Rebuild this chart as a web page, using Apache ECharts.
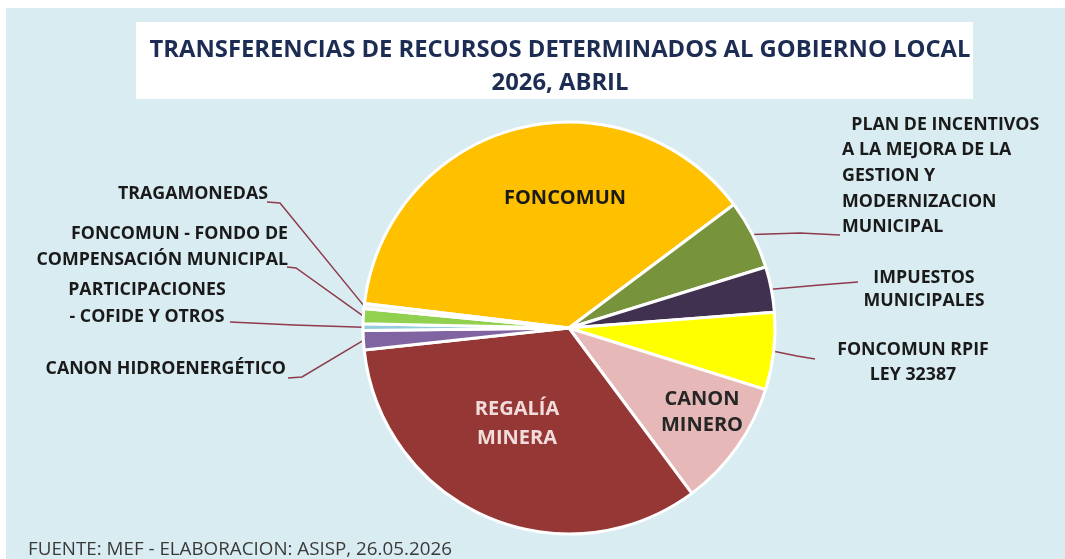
<!DOCTYPE html>
<html>
<head>
<meta charset="utf-8">
<script src="https://cdn.jsdelivr.net/npm/echarts@6/dist/echarts.min.js"></script>
<style>
html,body{margin:0;padding:0;background:#ffffff;}
#chart{width:1065px;height:559px;}
</style>
</head>
<body>
<div id="chart"></div>
<script>
// ---- data ----
const categories = [
  'FONCOMUN',
  'PLAN DE INCENTIVOS A LA MEJORA DE LA GESTION Y MODERNIZACION MUNICIPAL',
  'IMPUESTOS MUNICIPALES',
  'FONCOMUN RPIF LEY 32387',
  'CANON MINERO',
  'REGALÍA MINERA',
  'CANON HIDROENERGÉTICO',
  'PARTICIPACIONES - COFIDE Y OTROS',
  'FONCOMUN - FONDO DE COMPENSACIÓN MUNICIPAL',
  'TRAGAMONEDAS'
];
// share of total (%)
const values = [37.89, 5.44, 3.56, 6.06, 10.00, 33.47, 1.50, 0.53, 1.17, 0.39];
// displayed label text (line breaks as in the picture)
const labelTexts = [
  'FONCOMUN',
  '  PLAN DE INCENTIVOS\nA LA MEJORA DE LA\nGESTION Y\nMODERNIZACION\nMUNICIPAL',
  'IMPUESTOS\nMUNICIPALES',
  'FONCOMUN RPIF\nLEY 32387',
  'CANON\nMINERO',
  'REGALÍA\nMINERA',
  'CANON HIDROENERGÉTICO',
  'PARTICIPACIONES\n- COFIDE Y OTROS',
  'FONCOMUN - FONDO DE\nCOMPENSACIÓN MUNICIPAL',
  'TRAGAMONEDAS'
];
const titleText = 'TRANSFERENCIAS DE RECURSOS DETERMINADOS AL GOBIERNO LOCAL\n2026, ABRIL';
const footerText = 'FUENTE: MEF - ELABORACION: ASISP, 26.05.2026';

// ---- styles / layout ----
const colors = ['#FFC000','#77933C','#403151','#FFFF00','#E6B9B8','#953735','#8064A2','#93CDDD','#92D050','#F2F2F2'];
const inside = [true,false,false,false,true,true,false,false,false,false];
const insideColor = ['#1a1a1a',null,null,null,'#262626','#F2DCDB'];
const FONT = '"Open Sans", "Noto Sans", sans-serif';
// label anchor placement (x, y, align, lineHeight)
const labelPos = [
  {x:565, y:198, align:'center', lh:24},
  {x:842, y:176, align:'left',   lh:25.6},
  {x:924, y:289, align:'center', lh:23},
  {x:913, y:362, align:'center', lh:25},
  {x:702, y:412, align:'center', lh:26},
  {x:517, y:424, align:'center', lh:29},
  {x:286, y:369, align:'right',  lh:24},
  {x:147, y:303, align:'center', lh:27},
  {x:288, y:247, align:'right',  lh:26},
  {x:268, y:194, align:'right',  lh:24}
];
// label-line bend and end points at the label side (the slice side comes from the pie)
const lineEnds = [
  null,
  [[800,233],[840,235]],
  [[820,285],[858,282]],
  [[797,356],[815,359]],
  null,
  null,
  [[302,377],[288,378]],
  [[294,325],[230,322]],
  [[296,268],[287,267]],
  [[280,203],[267,202]]
];

const seriesData = categories.map((name, i) => {
  const item = {
    name: name,
    value: values[i],
    itemStyle: {color: colors[i]},
    label: {
      formatter: labelTexts[i],
      lineHeight: labelPos[i].lh,
      align: labelPos[i].align
    }
  };
  if (inside[i]) {
    item.label.position = 'inside';
    item.label.color = insideColor[i];
    item.label.fontSize = 20;
    item.labelLine = {show:false};
  }
  return item;
});

const chart = echarts.init(document.getElementById('chart'), null, {renderer:'canvas'});
chart.setOption({
  animation: false,
  backgroundColor: '#ffffff',
  graphic: [
    {type:'rect', z:-10, shape:{x:6, y:8, width:1065, height:560}, style:{fill:'#D9ECF2'}},
    {type:'rect', z:-9, shape:{x:136, y:22, width:837, height:77}, style:{fill:'#ffffff'}}
  ],
  title: [
    {
      text: titleText,
      left: 555, top: 29, textAlign: 'center',
      textStyle: {fontFamily: FONT, fontWeight: 'bold', fontSize: 23.8, color: '#1D2C52', lineHeight: 33}
    },
    {
      text: footerText,
      left: 23, top: 535,
      textStyle: {fontFamily: FONT, fontWeight: 'normal', fontSize: 18.8, color: '#3a3a3a'}
    }
  ],
  series: [{
    type: 'pie',
    center: [569, 328],
    radius: 206,
    startAngle: 173.2,
    clockwise: true,
    avoidLabelOverlap: false,
    itemStyle: {borderColor: '#ffffff', borderWidth: 3},
    label: {
      show: true,
      position: 'outside',
      fontFamily: FONT,
      fontWeight: 'bold',
      fontSize: 17.8,
      color: '#1a1a1a'
    },
    labelLine: {
      show: true,
      length: 8,
      length2: 20,
      lineStyle: {color: '#8E3B4C', width: 1.5}
    },
    labelLayout: function (params) {
      const i = params.dataIndex;
      const p = labelPos[i];
      const out = {x: p.x, y: p.y, align: p.align, verticalAlign: 'middle'};
      if (lineEnds[i] && params.labelLinePoints) {
        out.labelLinePoints = [params.labelLinePoints[0], lineEnds[i][0], lineEnds[i][1]];
      }
      return out;
    },
    data: seriesData
  }]
});
</script>
</body>
</html>
